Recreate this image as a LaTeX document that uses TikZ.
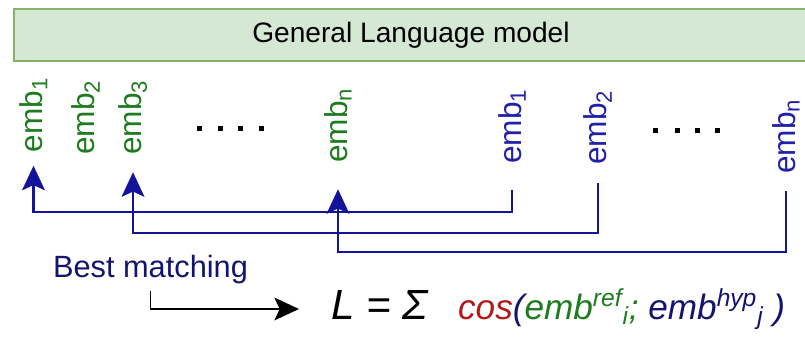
\documentclass[tikz,border=0pt]{standalone}
\usepackage{fontspec}
\setmainfont{Liberation Sans}
\usepackage{xcolor}
\usetikzlibrary{
  arrows.meta,
  positioning,
  calc
}
\definecolor{boxfill}{HTML}{D5E8D4}
\definecolor{boxline}{HTML}{82B366}
\definecolor{refgreen}{HTML}{1E7B1E}
\definecolor{hypblue}{HTML}{2020A8}
\definecolor{linkblue}{HTML}{14149A}
\definecolor{bestnavy}{HTML}{141470}
\definecolor{cosred}{HTML}{B01A1A}
\tikzset{>={Stealth[length=14pt, width=13pt, inset=3pt]}}
\tikzset{
  emb/.style={rotate=90, inner sep=0pt, font=\fontsize{18}{21}\selectfont},
  refemb/.style={emb, text=refgreen},
  hypemb/.style={emb, text=hypblue},
  match/.style={->, draw=linkblue, line width=1.2pt},
}

\begin{document}
\begin{tikzpicture}
  \clip (0,0) rectangle (16.1,-6.78);
  % model box, runs off the right edge
  \draw[boxline, fill=boxfill, line width=1.2pt] (0.28,-0.18) rectangle (16.16,-1.22);
  \node[font=\fontsize{16}{19}\selectfont] (glm) at (8.22,-0.70) {General Language model};
  % reference embeddings
  \node[refemb] (r1) at (0.67,-2.30) {emb\textsubscript{1}};
  \node[refemb] (r2) at (1.72,-2.35) {emb\textsubscript{2}};
  \node[refemb] (r3) at (2.66,-2.35) {emb\textsubscript{3}};
  \node[refemb] (rn) at (6.76,-2.51) {emb\textsubscript{n}};
  % hypothesis embeddings
  \node[hypemb] (h1) at (10.24,-2.53) {emb\textsubscript{1}};
  \node[hypemb] (h2) at (11.96,-2.55) {emb\textsubscript{2}};
  \node[hypemb] (hn) at (15.72,-2.73) {emb\textsubscript{n}};
  \foreach \x in {3.94,4.36,4.76,5.18} \fill (\x,-2.52) rectangle ++(0.1,-0.1);
  \foreach \x in {13.06,13.50,13.90,14.30} \fill (\x,-2.56) rectangle ++(0.1,-0.1);
  % best matching links
  \coordinate (lvl1) at (0,-4.24);
  \coordinate (lvl2) at (0,-4.66);
  \coordinate (lvl3) at (0,-5.04);
  \draw[match] ([yshift=-0.52cm]h1.west) -- (h1.west |- lvl1) -| ([yshift=-0.26cm]r1.west);
  \draw[match] ([yshift=-0.36cm]h2.west) -- (h2.west |- lvl2) -| ([yshift=-0.34cm]r3.west);
  \draw[match] ([yshift=-0.34cm]hn.west) -- (hn.west |- lvl3) -| ([yshift=-0.52cm]rn.west);
  % loss
  \node[inner sep=0pt, text=bestnavy, font=\fontsize{17.5}{21}\selectfont] (best) at (3.01,-5.40) {Best matching};
  \node[inner sep=0pt, anchor=west] (loss) at (6.62,-6.18)
    {\fontsize{24}{28}\selectfont\itshape L = Σ\hspace{0.6cm}\fontsize{20}{24}\selectfont
     \textcolor{cosred}{cos}\textcolor{bestnavy}{(}\textcolor{refgreen}{emb\textsuperscript{ref}\textsubscript{i};}
     \textcolor{bestnavy}{emb\textsuperscript{hyp}\textsubscript{j} )}};
  \draw[->, line width=0.9pt] ([yshift=-0.12cm]best.south) |- ([xshift=-0.64cm]loss.west);
\end{tikzpicture}
\end{document}
